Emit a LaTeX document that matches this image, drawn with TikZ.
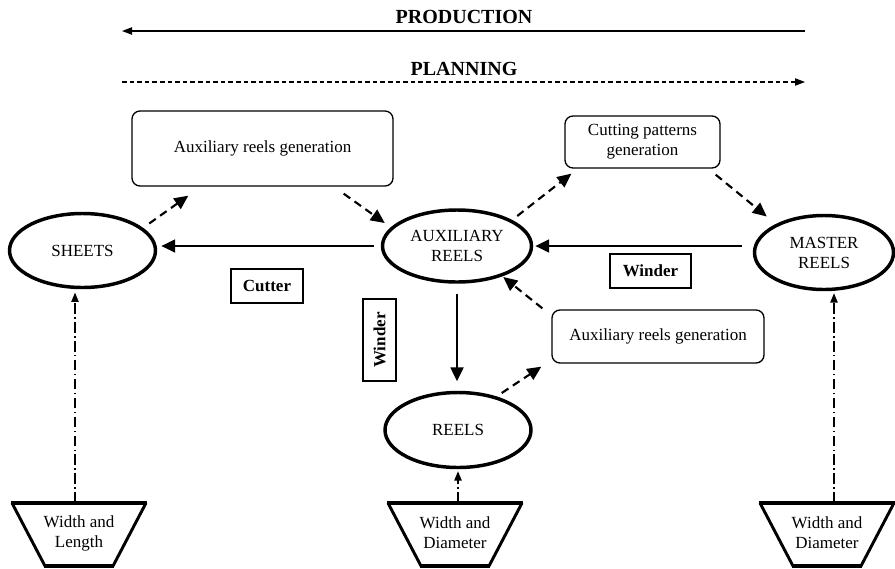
\documentclass[tikz,border=0pt]{standalone}
\usepackage{fontspec}
\setmainfont{Liberation Serif}
\usetikzlibrary{arrows.meta,shapes.geometric,calc}
\begin{document}
\begin{tikzpicture}[x=0.75pt,y=-0.75pt,
  every node/.style={font=\fontsize{12.75}{15}\selectfont, align=center, inner sep=0pt},
  ell/.style={ellipse, draw, line width=2.6pt},
  genbox/.style={draw, rounded corners=6pt, line width=1pt},
  labbox/.style={draw, line width=1.2pt, font=\fontsize{12.75}{15}\selectfont\bfseries},
  titlefont/.style={font=\fontsize{15}{18}\selectfont\bfseries},
  solidarrow/.style={line width=2.1pt, -{Triangle[length=10.5pt,width=9.5pt]}},
  dasharrow/.style={line width=1.6pt, dash pattern=on 6pt off 4pt, -{Triangle[length=10.5pt,width=9.5pt]}},
  dotarrow/.style={line width=0.9pt, dash pattern=on 8pt off 2.5pt on 1.2pt off 2.5pt, -{Triangle[length=7pt,width=5.5pt]}},
  toparrow/.style={line width=0.8pt, -{Triangle[length=7.5pt,width=5.5pt]}},
  topdash/.style={line width=0.8pt, dash pattern=on 3.5pt off 2.2pt, -{Triangle[length=7.5pt,width=5.5pt]}},
  trapside/.style={line width=2.2pt},
  trapedge/.style={line width=3pt}
]
\useasboundingbox (0,0) rectangle (895,568);

% titles and top arrows
\node[titlefont, anchor=base] (prod) at (464,23) {PRODUCTION};
\node[titlefont, anchor=base] (plan) at (464,75) {PLANNING};
\coordinate (prodR) at (805,31);
\coordinate (prodL) at (122,31);
\coordinate (planL) at (122,82);
\coordinate (planR) at (805,82);
\draw[toparrow] (prodR) -- (prodL);
\draw[topdash] (planL) -- (planR);

% ellipses
\node[ell, minimum width=109.5pt, minimum height=55.5pt] (sheets) at (82.5,250.5) {SHEETS};
\node[ell, minimum width=111.75pt, minimum height=54pt] (aux) at (457,246) {AUXILIARY\\REELS};
\node[ell, minimum width=104.25pt, minimum height=55.5pt] (master) at (824,252.5) {MASTER\\REELS};
\node[ell, minimum width=109.5pt, minimum height=56.25pt] (reels) at (458,430) {REELS};

% generation boxes
\node[genbox, minimum width=195.75pt, minimum height=56.25pt] (box1) at (262.5,148.5) {Auxiliary reels generation};
\node[genbox, minimum width=116.25pt, minimum height=39pt] (box3) at (642.5,142) {Cutting patterns\\generation};
\node[genbox, minimum width=159pt, minimum height=39.75pt] (box2) at (658,336.5) {Auxiliary reels generation};

% machine labels
\node[labbox, minimum width=54pt, minimum height=25.5pt] (cutter) at (267,286) {Cutter};
\node[labbox, minimum width=60.75pt, minimum height=25.5pt] (winderh) at (650.5,271) {Winder};
\node[labbox, rotate=90, minimum width=61.5pt, minimum height=24.75pt] (winderv) at (379.5,340) {Winder};

% trapezoids
\node (t1) at (79,533) {Width and\\Length};
\node (t2) at (455,533) {Width and\\Diameter};
\node (t3) at (827,533) {Width and\\Diameter};
\foreach \t in {t1,t2,t3}{
  \draw[trapside] ($(\t)+(-67,-30)$) -- ($(\t)+(-34,33)$);
  \draw[trapside] ($(\t)+(67,-30)$) -- ($(\t)+(34,33)$);
  \draw[trapedge] ($(\t)+(-68,-30)$) -- ($(\t)+(68,-30)$);
  \draw[trapedge] ($(\t)+(-35,33)$) -- ($(\t)+(35,33)$);
}
\coordinate (t1top) at ($(t1)+(-4,-30)$);
\coordinate (t2top) at ($(t2)+(3,-30)$);
\coordinate (t3top) at ($(t3)+(7,-30)$);
\draw[dotarrow, shorten >=2.5pt] (t1top) -- (t1top |- sheets.south);
\draw[dotarrow, shorten >=1.5pt] (t2top) -- (t2top |- reels.south);
\draw[dotarrow, shorten >=1.5pt] (t3top) -- (t3top |- master.south);

% solid production arrows
\draw[solidarrow, shorten <=5pt, shorten >=3pt] (aux.west) -- (aux.west -| sheets.east);
\draw[solidarrow, shorten <=8pt, shorten >=1.5pt] (aux.east -| master.west) -- (aux.east);
\draw[solidarrow, shorten <=7.5pt, shorten >=7pt] (aux.south) -- (aux.south |- reels.north);

% dashed planning arrows
\draw[dasharrow] ($(sheets.east)+(-8,-27)$) -- ($(box1.south west)+(57,9)$);
\draw[dasharrow] ($(box1.south east)+(-50,7)$) -- ($(aux.west)+(4,-23)$);
\draw[dasharrow] ($(aux.east)+(-16,-30)$) -- ($(box3.south west)+(7,5)$);
\draw[dasharrow] ($(box3.south east)+(-5,6)$) -- ($(master.west)+(14,-36)$);
\draw[dasharrow] ($(box2.north west)+(-9,-1)$) -- ($(aux.east)+(-30,31)$);
\draw[dasharrow] ($(reels.east)+(-31,-37)$) -- ($(box2.south west)+(-10,3)$);
\end{tikzpicture}
\end{document}
